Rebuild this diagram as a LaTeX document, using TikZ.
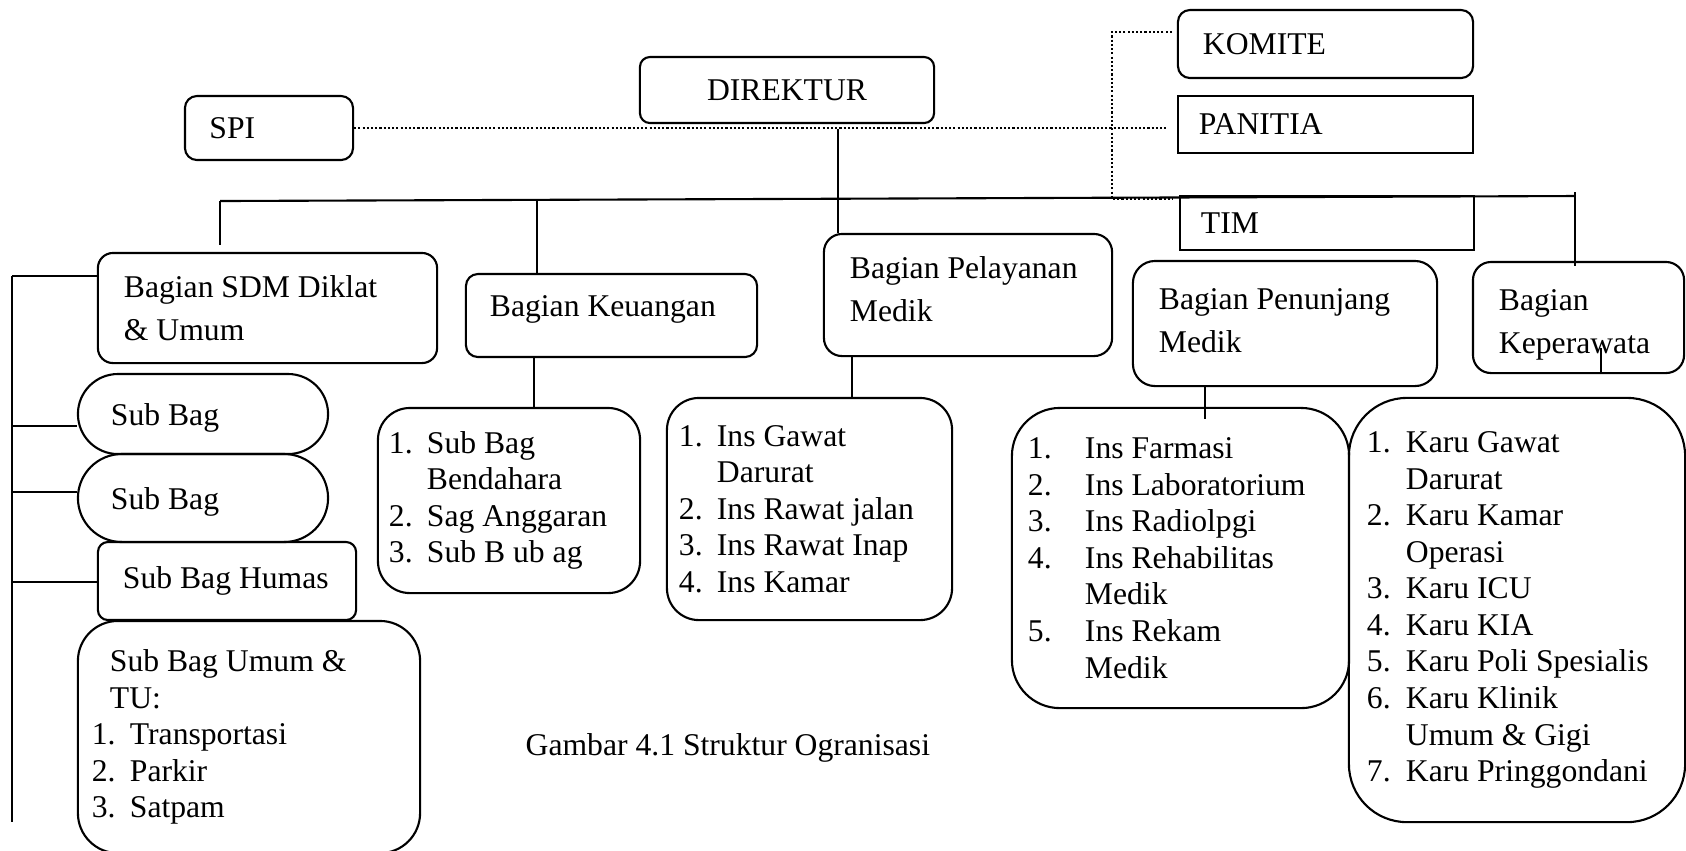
\documentclass[tikz,border=0pt]{standalone}
\usepackage{fontspec}
\setmainfont{Liberation Serif}
\usetikzlibrary{positioning,calc}

\newlength\numw
\setlength\numw{0.38cm}
% Nummer + Eintrag
\newcommand\li[2]{\makebox[\numw][l]{#1}\mbox{#2}}
\newcommand\tief[1]{\rule[-#1]{0pt}{0pt}}
\newcommand\hoch[1]{\rule{0pt}{#1}}

\begin{document}
\begin{tikzpicture}[x=0.01cm, y=-0.01cm,
	kasten/.style={draw, line width=0.6pt, rounded corners=0.12cm, inner ysep=1pt, align=flush left, font=\fontsize{9pt}{12.1pt}\selectfont},
	liste/.style={kasten, font=\fontsize{9pt}{10.4pt}\selectfont},
	eckig/.style={kasten, sharp corners},
	linie/.style={line width=0.6pt},
	punkt/.style={line width=0.5pt, dash pattern=on 0.6pt off 0.6pt}]

	\useasboundingbox (0,0) rectangle (1686,850);

	% Leitung
	\node[kasten, align=flush center, rounded corners=0.1cm, text width=2.74cm, inner xsep=0.1cm, minimum height=0.66cm] (dir) at (787,90) {DIREKTUR};
	\node[kasten, text width=1.19cm, inner xsep=0.245cm, minimum height=0.64cm] (spi) at (269,128) {SPI};
	\node[kasten, text width=2.45cm, inner xsep=0.25cm, minimum height=0.68cm] (kom) at (1325.5,44) {KOMITE};
	\node[eckig, text width=2.53cm, inner xsep=0.21cm, minimum height=0.57cm] (pan) at (1325.5,124.5) {PANITIA};
	\node[eckig, text width=2.52cm, inner xsep=0.21cm, minimum height=0.54cm] (tim) at (1327,223) {TIM};

	% Bagian
	\node[kasten, rounded corners=0.15cm, text width=2.87cm, inner xsep=0.26cm, minimum height=1.1cm] (sdm) at (267.5,308) {Bagian~SDM~Diklat\\ \&~Umum};
	\node[kasten, text width=2.43cm, inner xsep=0.24cm, minimum height=0.83cm] (keu) at (611.5,315.5) {Bagian~Keuangan\tief{0.19cm}};
	\node[kasten, rounded corners=0.18cm, text width=2.36cm, inner xsep=0.26cm, minimum height=1.22cm] (pel) at (968,295) {Bagian~Pelayanan\\ Medik\tief{0.12cm}};
	\node[kasten, rounded corners=0.22cm, text width=2.52cm, inner xsep=0.26cm, minimum height=1.25cm] (pen) at (1285,323.5) {Bagian~Penunjang\\ Medik\tief{0.06cm}};
	\node[kasten, rounded corners=0.18cm, text width=1.59cm, inner xsep=0.26cm, minimum height=1.11cm] (kep) at (1578.5,317.5) {\hoch{0.36cm}Bagian\\ Keperawata};

	% Sub Bag links
	\node[kasten, rounded corners=0.4cm, text width=1.84cm, inner xsep=0.33cm, minimum height=0.8cm] (sb1) at (203,414) {\hoch{0.3cm}Sub~Bag};
	\node[kasten, rounded corners=0.44cm, text width=1.84cm, inner xsep=0.33cm, minimum height=0.88cm] (sb2) at (203,498) {\hoch{0.3cm}Sub~Bag};
	\node[kasten, rounded corners=0.1cm, text width=2.08cm, inner xsep=0.25cm, minimum height=0.78cm] (hum) at (227,581) {Sub~Bag~Humas};
	\node[liste, rounded corners=0.4cm, text width=3.14cm, inner xsep=0.14cm, minimum height=2.32cm] (umum) at (249,737)
		{\hspace*{0.18cm}Sub~Bag~Umum~\&\\ \hspace*{0.18cm}TU:\\ \li{1.}{Transportasi}\\ \li{2.}{Parkir}\\ \li{3.}{Satpam}};

	% Listen
	\node[liste, rounded corners=0.32cm, text width=2.4cm, inner xsep=0.11cm, minimum height=1.85cm] (keul) at (509,500.5)
		{\li{1.}{Sub Bag}\\ \li{}{Bendahara}\\ \li{2.}{Sag Anggaran}\\ \li{3.}{Sub B ub ag}};
	\node[liste, rounded corners=0.32cm, text width=2.61cm, inner xsep=0.12cm, minimum height=2.22cm] (pell) at (809.5,509)
		{\li{1.}{Ins Gawat}\\ \li{}{Darurat}\\ \li{2.}{Ins Rawat jalan}\\ \li{3.}{Ins Rawat Inap}\\ \li{4.}{Ins Kamar}};
	\node[liste, rounded corners=0.48cm, text width=3.05cm, inner xsep=0.16cm, minimum height=3.0cm] (penl) at (1180.5,558)
		{\setlength\numw{0.57cm}\li{1.}{Ins Farmasi}\\ \li{2.}{Ins Laboratorium}\\ \li{3.}{Ins Radiolpgi}\\ \li{4.}{Ins Rehabilitas}\\ \li{}{Medik}\\ \li{5.}{Ins Rekam}\\ \li{}{Medik}};
	\node[liste, rounded corners=0.58cm, text width=3.0cm, inner xsep=0.18cm, minimum height=4.24cm] (karu) at (1517,610)
		{\setlength\numw{0.39cm}\li{1.}{Karu Gawat}\\ \li{}{Darurat}\\ \li{2.}{Karu Kamar}\\ \li{}{Operasi}\\ \li{3.}{Karu ICU}\\ \li{4.}{Karu KIA}\\ \li{5.}{Karu Poli Spesialis}\\ \li{6.}{Karu Klinik}\\ \li{}{Umum \& Gigi}\\ \li{7.}{Karu Pringgondani}};

	% Beschriftung
	\node[font=\fontsize{9pt}{10.4pt}\selectfont, anchor=base west, inner sep=0pt] (capt) at (525,755) {Gambar 4.1 Struktur Ogranisasi};

	% gepunktete Linien
	\coordinate (dT) at (1112,32);
	\coordinate (dB) at (1112,199);
	\draw[punkt, shorten >=0.1cm] (spi.east) -- (spi.east -| pan.west);
	\draw[punkt, shorten <=0.05cm, shorten >=0.06cm] (kom.west |- dT) -- (dT) -- (dB) -- (tim.west |- dB);

	% Hauptlinie
	\coordinate (bL) at (220,201);
	\coordinate (bR) at (1575,196);
	\coordinate (xB) at (537,0);
	\coordinate (xD) at (838,0);
	\draw[linie] (bL) -- (bR);
	\draw[linie, shorten >=0.07cm] (bL) -- (sdm.north -| bL);
	\draw[linie] (xB |- bL) -- (keu.north -| xB);
	\draw[linie, shorten <=0.05cm] (dir.south -| xD) -- (pel.north -| xD);
	\draw[linie, shorten <=-0.04cm, shorten >=-0.05cm] (bR) -- (kep.north -| bR);

	% Linie links
	\coordinate (lT) at (12,276);
	\coordinate (lB) at (12,822);
	\draw[linie] (lT) -- (lB);
	\foreach \y/\n in {276/sdm, 426/sb1, 492/sb2, 582/hum}{
		\coordinate (l) at (12,\y);
		\draw[linie] (l) -- (l -| \n.west);
	}

	% zu den Listen
	\coordinate (xK) at (534,0);
	\coordinate (xP) at (852,0);
	\coordinate (xN) at (1205,0);
	\coordinate (xR) at (1601,0);
	\draw[linie] (keu.south -| xK) -- (keul.north -| xK);
	\draw[linie] (pel.south -| xP) -- (pell.north -| xP);
	\draw[linie, shorten >=-0.12cm] (pen.south -| xN) -- (penl.north -| xN);
	\draw[linie] (kep.south -| xR) -- ++(0,-26);
\end{tikzpicture}
\end{document}
